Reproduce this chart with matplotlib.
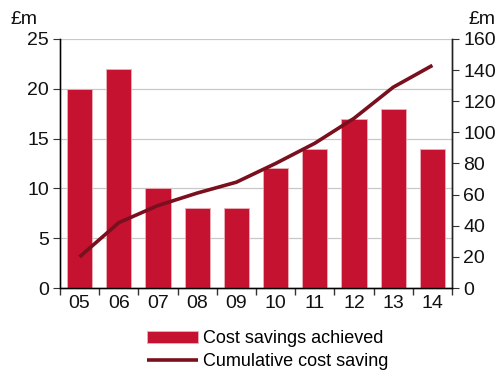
import matplotlib
matplotlib.use("Agg")
import matplotlib.pyplot as plt
import numpy as np

years = ["05", "06", "07", "08", "09", "10", "11", "12", "13", "14"]
savings = [20, 22, 10, 8, 8, 12, 14, 17, 18, 14]
cumulative = [20, 42, 53, 61, 68, 80, 93, 109, 129, 143]

BAR = "#c41230"
LINE = "#7a0f1e"

fams = ["Liberation Sans Narrow", "Liberation Sans", "DejaVu Sans"]
plt.rcParams.update({
    "font.family": fams, "font.size": 14,
    "axes.linewidth": 1.0, "xtick.color": "#333", "ytick.color": "#333",
    "xtick.labelcolor": "#111", "ytick.labelcolor": "#111",
})

fig = plt.figure(figsize=(4.97, 3.78), dpi=100)
ax = fig.add_axes([0.1207, 0.238, 0.7888, 0.659])
x = np.arange(len(years))
bars = ax.bar(x, savings, width=0.64, color=BAR, edgecolor="#eab0b8",
              linewidth=0.6, zorder=2, label="Cost savings achieved")
ax.set_xlim(-0.5, len(years) - 0.5)
ax.set_ylim(0, 25)
ax.set_yticks(range(0, 26, 5))
ax.yaxis.grid(True, color="#c8c8c8", lw=0.9, zorder=0)
ax.set_axisbelow(True)
ax.set_xticks(x)
ax.set_xticklabels(years)
ax.tick_params(axis="x", length=0, pad=5)
ax.set_xticks(np.arange(-0.5, len(years)), minor=True)
ax.tick_params(axis="x", which="minor", length=5, direction="out", width=1.0)
ax.tick_params(axis="y", length=5, direction="out", pad=3)
ax.spines["top"].set_visible(False)
ax.spines["left"].set_color("#555")
ax.spines["bottom"].set_color("#555")
ax.spines["right"].set_color("#222")

ax2 = ax.twinx()
ln, = ax2.plot(x, cumulative, color=LINE, lw=2.6, zorder=3,
               label="Cumulative cost saving", solid_capstyle="butt")
ax2.set_ylim(0, 160)
ax2.set_yticks(range(0, 161, 20))
ax2.tick_params(axis="y", length=5, direction="out", pad=3)
ax2.spines["top"].set_visible(False)
ax2.spines["right"].set_color("#222")

fig.text(0.022, 0.925, "£m", fontsize=14, color="#111", ha="left", va="bottom")
fig.text(0.996, 0.925, "£m", fontsize=14, color="#111", ha="right", va="bottom")

fig.legend([bars, ln], ["Cost savings achieved", "Cumulative cost saving"],
           loc="lower left", bbox_to_anchor=(0.28, 0.0), frameon=False,
           fontsize=13, handlelength=2.8, handletextpad=0.3,
           labelspacing=0.3, borderaxespad=0.05)

fig.savefig("out.png", dpi=100)
